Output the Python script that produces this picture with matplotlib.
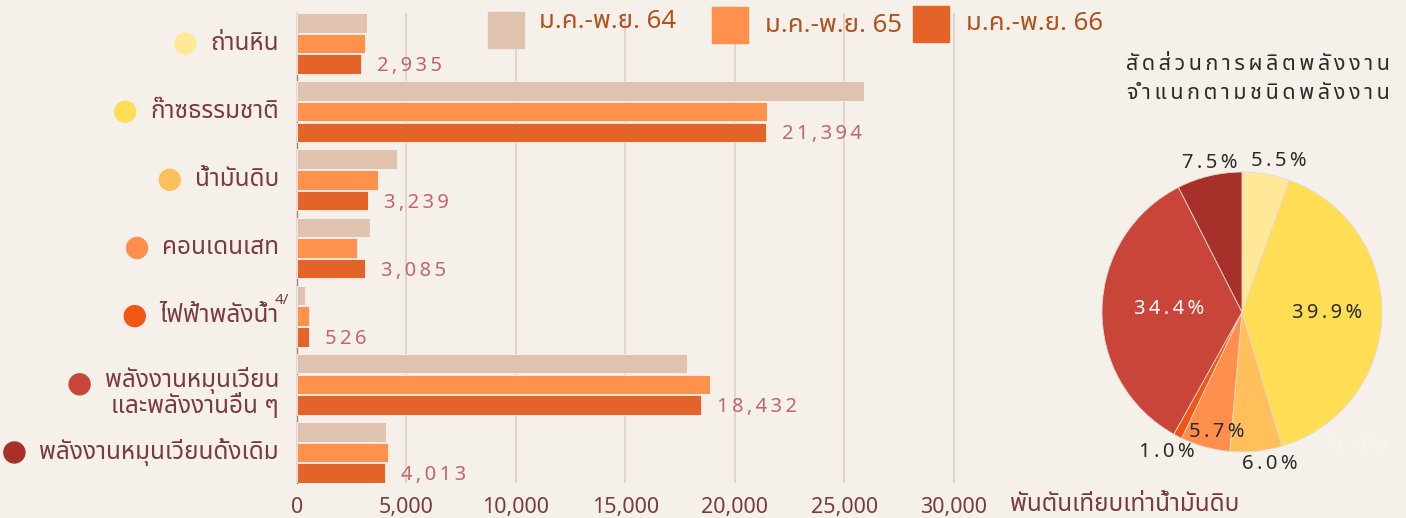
import matplotlib
matplotlib.use("Agg")
import matplotlib.pyplot as plt
from matplotlib.patches import Circle, Rectangle
from matplotlib.transforms import IdentityTransform, blended_transform_factory

# ---------------- data ----------------
categories = ["ถ่านหิน", "ก๊าซธรรมชาติ", "น้ำมันดิบ", "คอนเดนเสท", "ไฟฟ้าพลังน้ำ",
              "พลังงานหมุนเวียน\nและพลังงานอื่น ๆ", "พลังงานหมุนเวียนดั้งเดิม"]
series_names = ["ม.ค.-พ.ย. 64", "ม.ค.-พ.ย. 65", "ม.ค.-พ.ย. 66"]
values_64 = [3180, 25880, 4550, 3350, 380, 17810, 4080]
values_65 = [3100, 21460, 3690, 2730, 550, 18860, 4170]
values_66 = [2935, 21394, 3239, 3085, 526, 18432, 4013]
pie_pct = [5.5, 39.9, 6.0, 5.7, 1.0, 34.4, 7.5]
x_ticks = [0, 5000, 10000, 15000, 20000, 25000, 30000]
unit_label = "พันตันเทียบเท่าน้ำมันดิบ"
pie_title = "สัดส่วนการผลิตพลังงาน\nจำแนกตามชนิดพลังงาน"
footnote = "4/"
stray_label = "5.6%"

# ---------------- style ----------------
W, H = 1406, 518
BG = "#F5F1EA"
bar_colors = ["#DFC3AE", "#FF914D", "#E36329"]
cat_colors = ["#FFE999", "#FFDD55", "#FFC05C", "#FF8F4A", "#F25614", "#C9453A", "#A8302A"]
LABEL_C = "#7A3A45"
VALUE_C = "#C4646E"
LEGEND_C = "#B0531C"
DARK = "#2B2B2B"
THAI = ["Noto Sans Thai", "Noto Sans", "DejaVu Sans"]
plt.rcParams["font.family"] = THAI

MARKS = set(chr(c) for c in [0x0E31] + list(range(0x0E34, 0x0E3B)) + list(range(0x0E47, 0x0E4F)))


def spaced(s, sp="\u2009"):
    out = ""
    for i, ch in enumerate(s):
        if i > 0 and ch not in MARKS and ch != "\n" and s[i - 1] != "\n":
            out += sp
        out += ch
    return out


def fx(px):
    return px / W


def fy(py):
    return 1 - py / H


fig = plt.figure(figsize=(W / 100, H / 100), dpi=100, facecolor=BG)

# ---------------- bar chart ----------------
x0_px, top_px, bot_px = 297, 13, 483
px_per_unit = 109.5 / 5000
xmax = 30300
ax = fig.add_axes([fx(x0_px), fy(bot_px), xmax * px_per_unit / W, (bot_px - top_px) / H])
ax.set_facecolor("none")
n = len(categories)
step, bh = 0.304, 0.287
offsets = [-step, 0, step]
ys = list(range(n))
for vals, off, col in zip([values_64, values_65, values_66], offsets, bar_colors):
    ax.barh([y + off for y in ys], vals, height=bh, color=col, zorder=3,
            edgecolor="#FBF3EC", linewidth=0.6)
ax.set_ylim(n - 1 + 0.448, -0.448)
ax.set_xlim(0, xmax)
for s in ["top", "right", "bottom"]:
    ax.spines[s].set_visible(False)
ax.spines["left"].set_color("#9A8080")
ax.spines["left"].set_linewidth(1.0)
ax.spines["left"].set_zorder(2)
ax.set_xticks(x_ticks)
ax.set_xticklabels([f"{v:,}" for v in x_ticks])
ax.tick_params(axis="x", length=0, pad=10, labelsize=15.5, labelcolor=LABEL_C)
ax.set_yticks([])
for xt in x_ticks[1:]:
    ax.axvline(xt, color="#DCCFC8", linewidth=1.2, zorder=1)

# value labels
for y, v in zip(ys, values_66):
    ax.annotate(spaced(f"{v:,}"), xy=(v, y + step), xytext=(16, -2), textcoords="offset pixels",
                ha="left", va="center", fontsize=14.5, color=VALUE_C, zorder=4)

# category labels
trans = blended_transform_factory(ax.transAxes, ax.transData)
cat_texts = []
for y, lab in zip(ys, categories):
    dy = -9 if "\n" in lab else 0
    t = ax.annotate(lab, xy=(0, y), xycoords=trans, xytext=(-18, dy), textcoords="offset pixels",
                    ha="right", va="center", fontsize=17.5, color=LABEL_C, linespacing=0.95,
                    annotation_clip=False)
    cat_texts.append(t)

# footnote on hydro label
ax.annotate(footnote, xy=(0, ys[4]), xycoords=trans, xytext=(-8, 16), textcoords="offset pixels",
            ha="right", va="center", fontsize=11, color=LABEL_C, annotation_clip=False)

fig.text(fx(1010), fy(505), unit_label, ha="left", va="center", fontsize=17.5, color=LABEL_C)

# legend (manual)
leg_sq = [(488, 12), (712, 7), (913, 6)]
leg_tx = [(539, 22), (765, 26), (966, 23)]
for (sx, sy), (tx, ty), col, name in zip(leg_sq, leg_tx, bar_colors, series_names):
    fig.add_artist(Rectangle((fx(sx), fy(sy + 36)), 36 / W, 36 / H, transform=fig.transFigure,
                             color=col, zorder=5))
    fig.text(fx(tx), fy(ty), name, ha="left", va="center", fontsize=18.5, color=LEGEND_C)

# ---------------- pie ----------------
cx, cy, R = 1242, 312, 140
half = 150
pax = fig.add_axes([fx(cx - half), fy(cy + half), 2 * half / W, 2 * half / H])
pax.set_facecolor("none")
pax.pie(pie_pct, colors=cat_colors, startangle=90, counterclock=False, radius=1,
        wedgeprops=dict(linewidth=0.6, edgecolor="#E8D9D0"))
lim = half / R
pax.set_xlim(-lim, lim)
pax.set_ylim(-lim, lim)
pax.set_aspect("equal")
pax.axis("off")

pie_label_pos = [(0.26, 1.08), (0.61, -0.01), (0.20, -1.085), (-0.18, -0.857),
                 (-0.54, -1.0), (-0.52, 0.02), (-0.23, 1.064)]
pie_label_col = [DARK, DARK, DARK, DARK, DARK, "white", DARK]
for p, (lx, ly), c in zip(pie_pct, pie_label_pos, pie_label_col):
    pax.text(lx, ly, spaced(f"{p:.1f}%"), ha="center", va="center", fontsize=14.5, color=c)
pax.text(0.836, -0.957, spaced(stray_label), ha="center", va="center", fontsize=14.5,
         color="#F9F6F2", alpha=0.9)

fig.text(fx(1258), fy(79), spaced(pie_title), ha="center", va="center", fontsize=15.5,
         color=DARK, linespacing=1.45)

# dots beside category labels
fig.canvas.draw()
r = fig.canvas.get_renderer()
for t, y, col in zip(cat_texts, ys, cat_colors):
    bb = t.get_window_extent(r)
    py = ax.transData.transform((0, y))[1]
    fig.add_artist(Circle((max(bb.x0 - 25, 13), py), 10.5, transform=IdentityTransform(), color=col))

fig.savefig("out.png", dpi=100, facecolor=BG)
